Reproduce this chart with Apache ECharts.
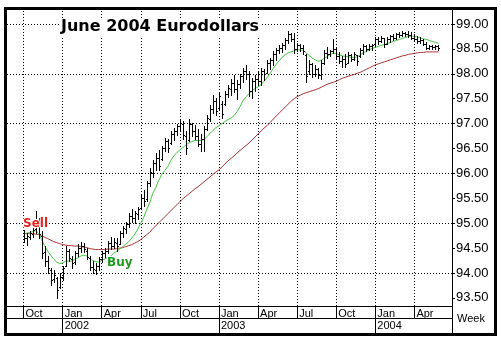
<!DOCTYPE html>
<html><head><meta charset="utf-8">
<script src="https://cdn.jsdelivr.net/npm/echarts@6/dist/echarts.min.js"></script>
<style>html,body{margin:0;padding:0;background:#fff}#c{width:501px;height:342px}</style>
</head><body><div id="c"></div>
<script>
// ---- axis domain (weekly slots) ----
const firstSlotWeek = '2001-08-31';
const slotCount = 148;
const firstBarWeek = '2001-10-05';

// ---- weekly OHLC, June 2004 Eurodollars (from 2001-10-05 to 2004-05-28) ----
const opens = [
 94.80,94.70,94.72,94.78,94.88,95.05,94.75,94.42,94.25,94.05,
 93.88,93.90,93.72,93.92,94.15,94.45,94.28,94.22,94.40,94.50,
 94.55,94.45,94.30,94.12,94.05,94.15,94.28,94.40,94.45,94.60,
 94.55,94.60,94.58,94.80,94.88,94.98,95.15,95.10,95.18,95.30,
 95.50,95.48,95.80,96.00,96.20,96.30,96.28,96.50,96.65,96.62,
 96.80,96.85,96.95,97.00,96.75,96.68,97.00,96.85,96.75,96.60,
 96.70,96.90,97.10,97.30,97.45,97.32,97.40,97.40,97.60,97.70,
 97.82,97.70,97.80,97.95,98.05,98.00,97.65,97.85,97.90,97.85,
 98.05,98.02,98.22,98.28,98.40,98.48,98.52,98.58,98.68,98.80,
 98.70,98.50,98.58,98.52,98.38,98.05,98.20,98.00,98.10,97.98,
 98.22,98.42,98.40,98.45,98.50,98.35,98.25,98.30,98.22,98.38,
 98.30,98.38,98.35,98.48,98.55,98.50,98.55,98.60,98.70,98.65,
 98.72,98.60,98.70,98.75,98.72,98.80,98.78,98.82,98.80,98.78,
 98.72,98.70,98.66,98.68,98.60,98.52,98.55,98.53,98.55];
const highs = [
 94.87,94.80,94.85,94.90,95.25,95.10,94.85,94.55,94.35,94.10,
 94.05,93.92,94.00,94.15,94.55,94.48,94.35,94.45,94.58,94.62,
 94.60,94.50,94.35,94.25,94.20,94.32,94.45,94.50,94.65,94.72,
 94.70,94.70,94.85,94.95,95.03,95.20,95.28,95.25,95.32,95.57,
 95.67,95.85,96.10,96.26,96.40,96.46,96.55,96.72,96.70,96.85,
 96.92,97.00,97.08,97.05,96.85,97.10,97.02,96.98,96.90,96.80,
 96.95,97.18,97.37,97.57,97.52,97.63,97.45,97.65,97.78,97.90,
 97.97,97.88,98.00,98.12,98.18,98.05,97.92,97.98,98.03,98.11,
 98.10,98.27,98.32,98.45,98.52,98.57,98.62,98.72,98.85,98.82,
 98.82,98.62,98.60,98.58,98.40,98.27,98.22,98.17,98.12,98.27,
 98.47,98.53,98.48,98.70,98.52,98.43,98.35,98.40,98.43,98.40,
 98.44,98.38,98.52,98.60,98.58,98.60,98.60,98.74,98.74,98.76,
 98.72,98.74,98.78,98.80,98.82,98.84,98.85,98.84,98.85,98.84,
 98.80,98.76,98.74,98.70,98.64,98.58,98.58,98.58,98.57];
const lows = [
 94.62,94.56,94.68,94.72,94.80,94.70,94.30,94.15,94.00,93.75,
 93.82,93.50,93.70,93.85,94.15,94.25,94.10,94.18,94.35,94.42,
 94.42,94.28,94.05,94.00,93.98,94.05,94.22,94.33,94.40,94.48,
 94.50,94.45,94.58,94.72,94.80,94.92,95.03,95.00,95.08,95.28,
 95.35,95.45,95.75,95.92,96.06,96.06,96.26,96.45,96.42,96.60,
 96.68,96.78,96.86,96.70,96.38,96.65,96.76,96.70,96.55,96.45,
 96.45,96.88,97.05,97.22,97.17,97.30,97.12,97.37,97.53,97.57,
 97.63,97.50,97.72,97.83,97.90,97.55,97.52,97.65,97.78,97.77,
 97.88,98.01,98.10,98.17,98.27,98.42,98.43,98.50,98.62,98.65,
 98.42,98.45,98.45,98.40,97.83,98.00,97.93,97.95,97.92,97.90,
 98.20,98.31,98.35,98.42,98.31,98.21,98.13,98.14,98.22,98.25,
 98.28,98.18,98.33,98.40,98.45,98.48,98.47,98.56,98.60,98.64,
 98.54,98.60,98.64,98.68,98.70,98.74,98.75,98.75,98.74,98.70,
 98.66,98.62,98.62,98.58,98.50,98.49,98.50,98.49,98.48];
const closes = [
 94.70,94.75,94.80,94.86,95.05,94.78,94.40,94.25,94.10,93.85,
 93.95,93.65,93.92,94.10,94.45,94.30,94.20,94.40,94.50,94.55,
 94.48,94.32,94.12,94.08,94.15,94.28,94.40,94.45,94.60,94.55,
 94.62,94.55,94.80,94.90,94.98,95.15,95.10,95.20,95.28,95.50,
 95.45,95.80,96.02,96.20,96.30,96.15,96.50,96.65,96.50,96.80,
 96.85,96.95,97.02,96.78,96.50,97.00,96.85,96.75,96.60,96.70,
 96.90,97.12,97.30,97.45,97.25,97.55,97.20,97.60,97.72,97.82,
 97.70,97.80,97.95,98.05,98.00,97.65,97.85,97.90,97.85,98.05,
 98.00,98.22,98.28,98.40,98.48,98.52,98.58,98.68,98.80,98.70,
 98.50,98.58,98.52,98.45,97.95,98.20,98.00,98.10,97.98,98.22,
 98.42,98.40,98.45,98.50,98.35,98.25,98.30,98.20,98.38,98.30,
 98.40,98.25,98.48,98.55,98.50,98.55,98.58,98.70,98.65,98.72,
 98.60,98.70,98.75,98.72,98.80,98.78,98.82,98.80,98.78,98.72,
 98.70,98.66,98.68,98.60,98.52,98.55,98.53,98.56,98.52];
// short moving average (green)
const maShort = [
 94.79,94.80,94.81,94.83,94.85,94.80,94.68,94.55,94.44,94.36,
 94.28,94.22,94.19,94.20,94.24,94.24,94.24,94.27,94.30,94.34,
 94.36,94.34,94.29,94.25,94.23,94.22,94.25,94.28,94.31,94.34,
 94.40,94.44,94.48,94.53,94.58,94.63,94.70,94.78,94.88,95.00,
 95.12,95.28,95.42,95.60,95.72,95.86,95.98,96.06,96.14,96.26,
 96.35,96.42,96.47,96.52,96.57,96.61,96.64,96.66,96.66,96.66,
 96.68,96.74,96.80,96.86,96.92,96.96,97.00,97.04,97.08,97.11,
 97.16,97.24,97.34,97.46,97.54,97.60,97.66,97.70,97.74,97.78,
 97.85,97.92,98.01,98.10,98.19,98.26,98.33,98.38,98.42,98.44,
 98.46,98.48,98.48,98.47,98.42,98.37,98.32,98.28,98.25,98.27,
 98.31,98.35,98.39,98.41,98.41,98.38,98.36,98.35,98.34,98.33,
 98.33,98.34,98.38,98.42,98.45,98.48,98.51,98.53,98.55,98.57,
 98.59,98.61,98.63,98.65,98.67,98.69,98.71,98.73,98.75,98.76,
 98.75,98.74,98.72,98.70,98.69,98.67,98.65,98.63,98.61];
// long moving average (red)
const maLong = [
 94.79,94.79,94.79,94.79,94.78,94.77,94.75,94.72,94.69,94.66,
 94.63,94.61,94.59,94.57,94.56,94.55,94.55,94.54,94.54,94.53,
 94.52,94.51,94.49,94.48,94.47,94.47,94.47,94.47,94.48,94.48,
 94.48,94.49,94.50,94.51,94.53,94.55,94.57,94.60,94.63,94.67,
 94.72,94.77,94.82,94.89,94.95,95.01,95.07,95.13,95.19,95.25,
 95.31,95.37,95.43,95.49,95.54,95.59,95.64,95.69,95.73,95.78,
 95.83,95.88,95.93,95.98,96.03,96.07,96.13,96.19,96.25,96.30,
 96.35,96.41,96.46,96.51,96.56,96.61,96.67,96.73,96.79,96.85,
 96.91,96.96,97.02,97.09,97.15,97.21,97.27,97.33,97.39,97.45,
 97.50,97.54,97.57,97.60,97.62,97.64,97.66,97.68,97.70,97.73,
 97.76,97.79,97.81,97.83,97.85,97.88,97.91,97.93,97.95,97.97,
 97.99,98.01,98.03,98.06,98.09,98.12,98.15,98.18,98.20,98.22,
 98.24,98.26,98.28,98.30,98.32,98.34,98.36,98.37,98.39,98.40,
 98.41,98.42,98.43,98.43,98.44,98.44,98.44,98.44,98.44];

// ---- tick labels ----
const monthTickWeeks = ['2001-10-05','2002-01-04','2002-04-05','2002-07-05','2002-10-04','2003-01-03','2003-04-04','2003-07-04','2003-10-03','2004-01-02','2004-04-02'];
const monthTickLabels = ['Oct','Jan','Apr','Jul','Oct','Jan','Apr','Jul','Oct','Jan','Apr'];
const yearTickWeeks = ['2002-01-04','2003-01-03','2004-01-02'];
const yearTickLabels = ['2002','2003','2004'];
const priceTicks = [93.5,94.0,94.5,95.0,95.5,96.0,96.5,97.0,97.5,98.0,98.5,99.0];
const priceGrid = [94,95,96,97,98,99];
const signalWeeks = ['2001-11-02','2002-05-17'];
const signalPrices = [94.99, 94.20];
const signalLabels = ['Sell','Buy'];
const signalColors = ['#e3221c','#1f9a1f'];

// build weekly slot names
const weeks = [];
{
  const p = firstSlotWeek.split('-').map(Number);
  let t = Date.UTC(p[0], p[1]-1, p[2]);
  for (let k = 0; k < slotCount; k++) {
    const d = new Date(t);
    weeks.push(d.getUTCFullYear() + '-' + String(d.getUTCMonth()+1).padStart(2,'0') + '-' + String(d.getUTCDate()).padStart(2,'0'));
    t += 7*86400000;
  }
}
const firstIdx = weeks.indexOf(firstBarWeek);
const monthIdx = monthTickWeeks.map(w => weeks.indexOf(w));
const yearIdx = yearTickWeeks.map(w => weeks.indexOf(w));

const ohlcData = opens.map((o,k) => [firstIdx+k, o, closes[k], lows[k], highs[k]]);
const shortData = maShort.map((v,k) => [firstIdx+k, v]);
const longData = maLong.map((v,k) => [firstIdx+k, v]);

const FONT = 'Liberation Sans, Arial, sans-serif';
const HEAVY = 'DejaVu Sans, Liberation Sans, sans-serif';

function renderOHLC(params, api) {
  const xi = api.value(0);
  const pO = api.coord([xi, api.value(1)]);
  const pC = api.coord([xi, api.value(2)]);
  const pL = api.coord([xi, api.value(3)]);
  const pH = api.coord([xi, api.value(4)]);
  const x = Math.round(pH[0]) + 0.5;
  const st = {stroke:'#000', lineWidth:1};
  const yo = Math.round(pO[1]) + 0.5, yc = Math.round(pC[1]) + 0.5;
  return {type:'group', children:[
    {type:'line', shape:{x1:x, y1:Math.round(pH[1]), x2:x, y2:Math.round(pL[1])+1}, style:st},
    {type:'line', shape:{x1:x-1.5, y1:yo, x2:x, y2:yo}, style:st},
    {type:'line', shape:{x1:x, y1:yc, x2:x+1.5, y2:yc}, style:st}
  ]};
}

const chart = echarts.init(document.getElementById('c'), null, {renderer:'canvas'});
chart.setOption({
  animation: false,
  backgroundColor: '#fff',
  title: {
    text: 'June 2004 Eurodollars', left: 59, top: 18, padding: [1,2],
    backgroundColor: '#fff',
    textStyle: {fontSize: 16, fontWeight: 'bold', color: '#000', fontFamily: HEAVY}
  },
  grid: {left: 7, right: 49, top: 10, bottom: 36, containLabel: false},
  xAxis: [
    {
      type: 'category', data: weeks, boundaryGap: true, position: 'bottom',
      axisLine: {show: true, onZero: false, lineStyle: {color: '#000', width: 1}},
      axisTick: {show: true, alignWithLabel: true, interval: (i) => monthIdx.indexOf(i) >= 0, length: 12, lineStyle: {color: '#000'}},
      axisLabel: {
        show: true, interval: (i) => monthIdx.indexOf(i) >= 0,
        formatter: (v) => monthTickLabels[monthTickWeeks.indexOf(v)] || '',
        align: 'left', margin: 2, padding: [0,0,0,2], fontSize: 11, color: '#000', fontFamily: FONT
      },
      splitLine: {show: false}
    },
    {
      type: 'category', data: weeks, boundaryGap: true, position: 'bottom', offset: 12,
      axisLine: {show: true, onZero: false, lineStyle: {color: '#000', width: 1}},
      axisTick: {show: true, alignWithLabel: true, interval: (i) => yearIdx.indexOf(i) >= 0, length: 15, lineStyle: {color: '#000'}},
      axisLabel: {
        show: true, interval: (i) => yearIdx.indexOf(i) >= 0,
        formatter: (v) => yearTickLabels[yearTickWeeks.indexOf(v)] || '',
        align: 'left', margin: 2, padding: [0,0,0,2], fontSize: 11, color: '#000', fontFamily: FONT
      },
      splitLine: {show: false}
    }
  ],
  yAxis: {
    type: 'value', position: 'right', min: 93.337, max: 99.281, scale: true,
    axisLine: {show: true, lineStyle: {color: '#000', width: 1}},
    axisTick: {show: true, customValues: priceTicks, length: 3, lineStyle: {color: '#000'}},
    axisLabel: {customValues: priceTicks, formatter: (v) => Number(v).toFixed(2), color: '#000', fontSize: 13, fontFamily: FONT, margin: 4},
    splitLine: {show: false}
  },
  series: [
    {
      type: 'line', name: 'long MA', data: longData, showSymbol: false, symbol: 'none', z: 2,
      lineStyle: {color: '#a83232', width: 1}, itemStyle: {color: '#a83232'},
      markLine: {
        silent: true, symbol: ['none','none'], label: {show: false}, z: 1,
        lineStyle: {color: '#000', type: [1,2], width: 1},
        data: priceGrid.map(v => ({yAxis: v})).concat(monthTickWeeks.map(w => ({xAxis: w})))
      }
    },
    {
      type: 'line', name: 'short MA', data: shortData, showSymbol: false, symbol: 'none', z: 2,
      lineStyle: {color: '#3fc83f', width: 1}, itemStyle: {color: '#3fc83f'},
      markPoint: {
        symbol: 'circle', symbolSize: 1, silent: true,
        itemStyle: {color: 'rgba(0,0,0,0)'},
        data: signalWeeks.map((w,k) => ({
          coord: [w, signalPrices[k]], value: signalLabels[k],
          label: {show: true, position: 'inside', formatter: signalLabels[k], color: signalColors[k],
                  fontSize: 12, fontWeight: 'bold', fontFamily: HEAVY, textBorderColor: '#fff', textBorderWidth: 2}
        }))
      }
    },
    {
      type: 'custom', name: 'OHLC', data: ohlcData, renderItem: renderOHLC, z: 3,
      encode: {x: 0, y: [1,2,3,4]}, clip: false
    }
  ],
  graphic: [
    {type: 'line', shape: {x1: 452.5, y1: 306, x2: 452.5, y2: 334}, style: {stroke: '#000', lineWidth: 1}, z: 10},
    {type: 'text', left: 457, top: 313, style: {text: 'Week', fontSize: 11, fill: '#000', font: '11px ' + FONT}, z: 10},
    {type: 'rect', shape: {x: 5.5, y: 8.5, width: 490, height: 326}, style: {fill: 'none', stroke: '#000', lineWidth: 3}, z: 20}
  ]
});
</script>
</body></html>
